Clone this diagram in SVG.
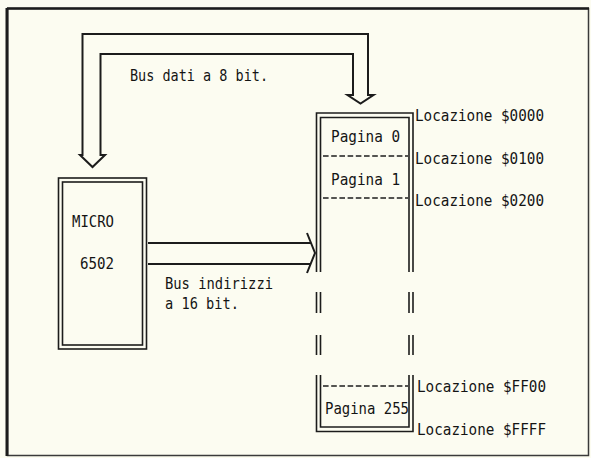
<svg xmlns="http://www.w3.org/2000/svg" width="591" height="458" viewBox="0 0 591 458">
<style>
.bg{fill:#fcfcf1}
.ln{fill:none;stroke:#1c1c1c;stroke-width:1.6}
.bus{fill:none;stroke:#1c1c1c;stroke-width:2;stroke-linejoin:miter}
.dash{fill:none;stroke:#1c1c1c;stroke-width:1.3;stroke-dasharray:5.6 2.6}
text{font-family:"DejaVu Sans Mono","Liberation Mono",monospace;font-size:16px;fill:#141414}
</style>
<rect class="bg" x="0" y="0" width="591" height="458"/>
<g id="frame">
<rect x="7.5" y="8.5" width="581" height="447" fill="none" stroke="#3a3a3a" stroke-width="1.5"/>
<line x1="7" y1="8" x2="7" y2="456" stroke="#1c1c1c" stroke-width="3"/>
<line x1="7" y1="8.5" x2="589" y2="8.5" stroke="#1c1c1c" stroke-width="2.5"/>
</g>
<g id="connectors">
<g id="data-bus">
<path class="bus" d="M82.5,155 L82.5,34 L368,34 L368,95 L373.5,95 L360.5,103.5 L347.5,95 L353,95 L353,54 L100.5,54 L100.5,155 L105,155 L92.5,167 L80,155 Z"/>
<text x="130" y="81" textLength="138" lengthAdjust="spacingAndGlyphs">Bus dati a 8 bit.</text>
</g>
<g id="address-bus">
<path class="bus" d="M148,243 L311,243 M148,264 L311,264 M307,233 L315,253 L307,273"/>
<text x="165" y="289" textLength="108" lengthAdjust="spacingAndGlyphs">Bus indirizzi</text>
<text x="165" y="309" textLength="74" lengthAdjust="spacingAndGlyphs">a 16 bit.</text>
</g>
</g>
<g id="micro">
<rect class="ln" x="58.5" y="178" width="88" height="171"/>
<rect class="ln" x="62.5" y="182" width="80" height="163"/>
<text x="72" y="227" textLength="42" lengthAdjust="spacingAndGlyphs">MICRO</text>
<text x="80" y="269" textLength="34" lengthAdjust="spacingAndGlyphs">6502</text>
</g>
<g id="memory">
<path class="ln" d="M316.5,272 L316.5,113 L413,113 L413,272 M320.5,272 L320.5,117.5 L409,117.5 L409,272"/>
<path class="ln" d="M316.5,292 V313 M320.5,292 V313 M409,292 V313 M413,292 V313 M316.5,335 V355 M320.5,335 V355 M409,335 V355 M413,335 V355"/>
<path class="ln" d="M316.5,375 V431.5 H413 V375 M320.5,375 V427 H409 V375"/>
<line class="dash" x1="323" y1="156" x2="408" y2="156"/>
<line class="dash" x1="323" y1="198" x2="408" y2="198"/>
<line class="dash" x1="323" y1="386" x2="408" y2="386"/>
<text x="331" y="142" textLength="69" lengthAdjust="spacingAndGlyphs">Pagina 0</text>
<text x="331" y="185" textLength="69" lengthAdjust="spacingAndGlyphs">Pagina 1</text>
<text x="325" y="414" textLength="84" lengthAdjust="spacingAndGlyphs">Pagina 255</text>
<text x="415" y="121" textLength="129" lengthAdjust="spacingAndGlyphs">Locazione $0000</text>
<text x="415" y="164" textLength="129" lengthAdjust="spacingAndGlyphs">Locazione $0100</text>
<text x="415" y="206" textLength="129" lengthAdjust="spacingAndGlyphs">Locazione $0200</text>
<text x="417" y="392" textLength="129" lengthAdjust="spacingAndGlyphs">Locazione $FF00</text>
<text x="417" y="435" textLength="129" lengthAdjust="spacingAndGlyphs">Locazione $FFFF</text>
</g>
</svg>
